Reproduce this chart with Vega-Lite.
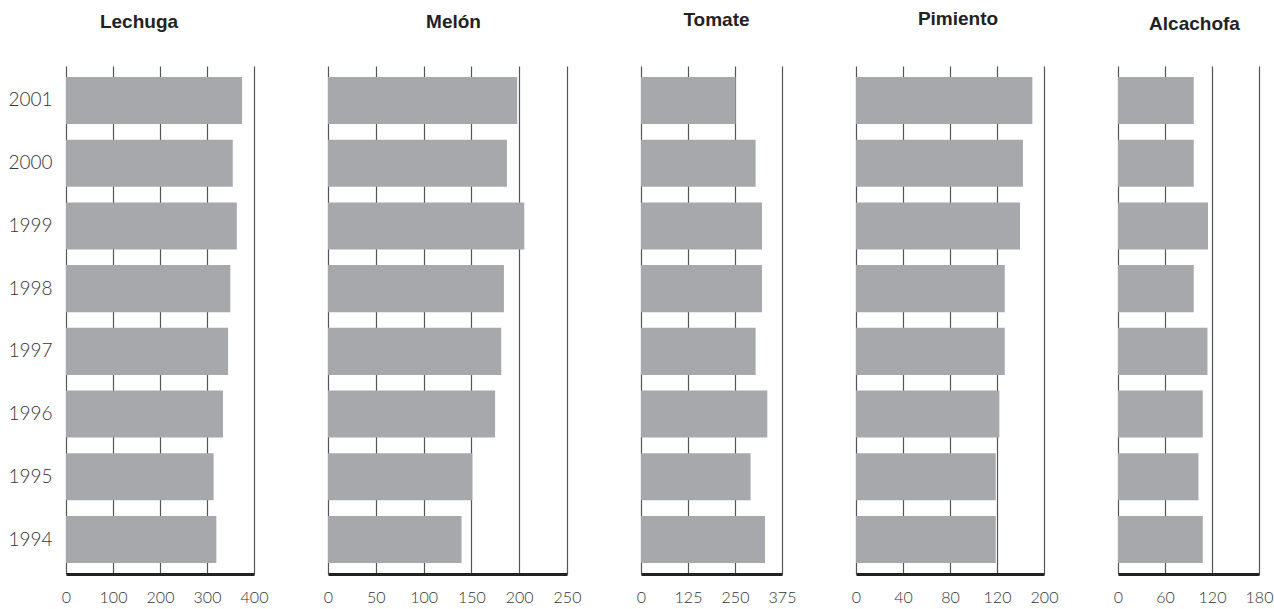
{
  "$schema": "https://vega.github.io/schema/vega-lite/v6.json",
  "background": "white",
  "padding": {"left": 7, "top": 10, "right": 5, "bottom": 5},
  "bounds": "flush",
  "spacing": 74,
  "data": {"values": [
    {"cultivo": "Lechuga", "year": "2001", "value": 374.6},
    {"cultivo": "Lechuga", "year": "2000", "value": 354.8},
    {"cultivo": "Lechuga", "year": "1999", "value": 363.4},
    {"cultivo": "Lechuga", "year": "1998", "value": 349.7},
    {"cultivo": "Lechuga", "year": "1997", "value": 344.8},
    {"cultivo": "Lechuga", "year": "1996", "value": 334.1},
    {"cultivo": "Lechuga", "year": "1995", "value": 314.1},
    {"cultivo": "Lechuga", "year": "1994", "value": 319.9},
    {"cultivo": "Melón", "year": "2001", "value": 197.9},
    {"cultivo": "Melón", "year": "2000", "value": 187.2},
    {"cultivo": "Melón", "year": "1999", "value": 205.3},
    {"cultivo": "Melón", "year": "1998", "value": 184.0},
    {"cultivo": "Melón", "year": "1997", "value": 181.2},
    {"cultivo": "Melón", "year": "1996", "value": 174.8},
    {"cultivo": "Melón", "year": "1995", "value": 151.0},
    {"cultivo": "Melón", "year": "1994", "value": 139.7},
    {"cultivo": "Tomate", "year": "2001", "value": 251.6},
    {"cultivo": "Tomate", "year": "2000", "value": 304.8},
    {"cultivo": "Tomate", "year": "1999", "value": 321.8},
    {"cultivo": "Tomate", "year": "1998", "value": 321.8},
    {"cultivo": "Tomate", "year": "1997", "value": 304.8},
    {"cultivo": "Tomate", "year": "1996", "value": 335.9},
    {"cultivo": "Tomate", "year": "1995", "value": 291.5},
    {"cultivo": "Tomate", "year": "1994", "value": 329.8},
    {"cultivo": "Pimiento", "year": "2001", "value": 150.1},
    {"cultivo": "Pimiento", "year": "2000", "value": 142.1},
    {"cultivo": "Pimiento", "year": "1999", "value": 139.6},
    {"cultivo": "Pimiento", "year": "1998", "value": 126.6},
    {"cultivo": "Pimiento", "year": "1997", "value": 126.6},
    {"cultivo": "Pimiento", "year": "1996", "value": 122.0},
    {"cultivo": "Pimiento", "year": "1995", "value": 118.9},
    {"cultivo": "Pimiento", "year": "1994", "value": 118.9},
    {"cultivo": "Alcachofa", "year": "2001", "value": 96.7},
    {"cultivo": "Alcachofa", "year": "2000", "value": 96.7},
    {"cultivo": "Alcachofa", "year": "1999", "value": 114.9},
    {"cultivo": "Alcachofa", "year": "1998", "value": 96.7},
    {"cultivo": "Alcachofa", "year": "1997", "value": 114.2},
    {"cultivo": "Alcachofa", "year": "1996", "value": 108.2},
    {"cultivo": "Alcachofa", "year": "1995", "value": 102.7},
    {"cultivo": "Alcachofa", "year": "1994", "value": 108.2}
  ]},
  "config": {
    "view": {"stroke": null},
    "axisX": {
      "grid": true, "gridColor": "#555555", "gridWidth": 1.2, "gridOpacity": 1,
      "ticks": false, "domainColor": "#222222", "domainWidth": 3,
      "labelFont": "Lato", "labelFontWeight": 300, "labelFontSize": 16, "labelColor": "#333333",
      "labelPadding": 15, "title": null, "labelFlush": false, "labelOverlap": false
    },
    "axisY": {
      "grid": false, "domain": false, "ticks": false,
      "labelFont": "Lato", "labelFontWeight": 300, "labelFontSize": 19, "labelColor": "#333333",
      "labelPadding": 14, "title": null
    },
    "title": {"font": "Liberation Sans", "fontSize": 19, "fontWeight": "bold", "color": "#222222", "offset": 34, "anchor": "middle"},
    "bar": {"color": "#a7a8ab"}
  },
  "hconcat": [
    {
      "width": 188, "height": 508,
      "title": {"text": "Lechuga", "dx": -21},
      "transform": [{"filter": "datum.cultivo == 'Lechuga'"}],
      "mark": "bar",
      "encoding": {
        "y": {"field": "year", "type": "ordinal", "sort": "descending", "scale": {"paddingInner": 0.25, "paddingOuter": 0.175}},
        "x": {"field": "value", "type": "quantitative", "scale": {"domain": [0, 400], "nice": false}, "axis": {"values": [0, 100, 200, 300, 400]}}
      }
    },
    {
      "width": 239, "height": 508,
      "title": {"text": "Melón", "dx": 6},
      "transform": [{"filter": "datum.cultivo == 'Melón'"}],
      "mark": "bar",
      "encoding": {
        "y": {"field": "year", "type": "ordinal", "sort": "descending", "scale": {"paddingInner": 0.25, "paddingOuter": 0.175}, "axis": null},
        "x": {"field": "value", "type": "quantitative", "scale": {"domain": [0, 250], "nice": false}, "axis": {"values": [0, 50, 100, 150, 200, 250]}}
      }
    },
    {
      "width": 141, "height": 508,
      "title": {"text": "Tomate", "dx": 5, "dy": -2},
      "transform": [{"filter": "datum.cultivo == 'Tomate'"}],
      "mark": "bar",
      "encoding": {
        "y": {"field": "year", "type": "ordinal", "sort": "descending", "scale": {"paddingInner": 0.25, "paddingOuter": 0.175}, "axis": null},
        "x": {"field": "value", "type": "quantitative", "scale": {"domain": [0, 375], "nice": false}, "axis": {"values": [0, 125, 250, 375]}}
      }
    },
    {
      "width": 188, "height": 508,
      "title": {"text": "Pimiento", "dx": 8, "dy": -3},
      "transform": [{"filter": "datum.cultivo == 'Pimiento'"}],
      "mark": "bar",
      "encoding": {
        "y": {"field": "year", "type": "ordinal", "sort": "descending", "scale": {"paddingInner": 0.25, "paddingOuter": 0.175}, "axis": null},
        "x": {"field": "value", "type": "quantitative", "scale": {"domain": [0, 160], "nice": false}, "axis": {"values": [0, 40, 80, 120, 160], "labelExpr": "datum.value == 160 ? '200' : datum.label"}}
      }
    },
    {
      "width": 141, "height": 508,
      "title": {"text": "Alcachofa", "dx": 6, "dy": 2},
      "transform": [{"filter": "datum.cultivo == 'Alcachofa'"}],
      "mark": "bar",
      "encoding": {
        "y": {"field": "year", "type": "ordinal", "sort": "descending", "scale": {"paddingInner": 0.25, "paddingOuter": 0.175}, "axis": null},
        "x": {"field": "value", "type": "quantitative", "scale": {"domain": [0, 180], "nice": false}, "axis": {"values": [0, 60, 120, 180]}}
      }
    }
  ]
}
